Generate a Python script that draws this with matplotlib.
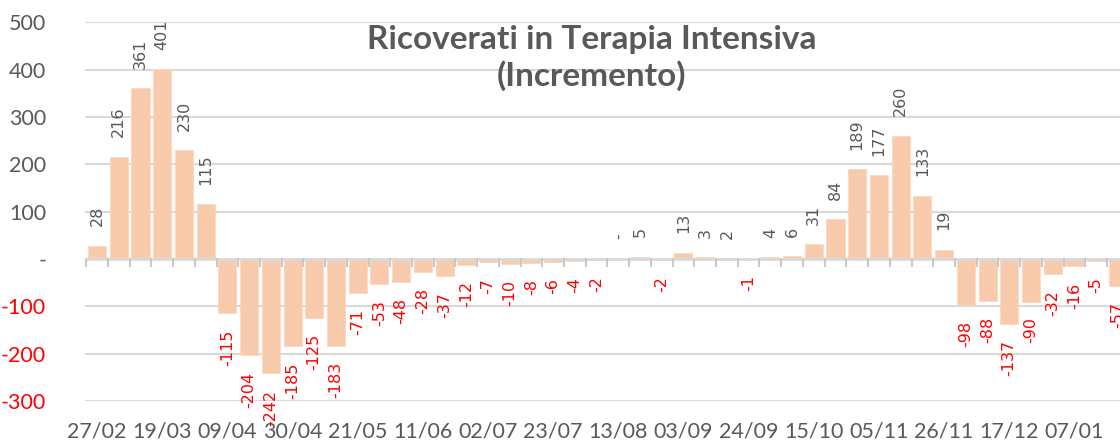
import numpy as np
from matplotlib import pyplot as plt

"DATA"
weeks = ['27/02', '05/03', '12/03', '19/03', '26/03', '02/04', '09/04', '16/04',
         '23/04', '30/04', '07/05', '14/05', '21/05', '28/05', '04/06', '11/06',
         '18/06', '25/06', '02/07', '09/07', '16/07', '23/07', '30/07', '06/08',
         '13/08', '20/08', '27/08', '03/09', '10/09', '17/09', '24/09', '01/10',
         '08/10', '15/10', '22/10', '29/10', '05/11', '12/11', '19/11', '26/11',
         '03/12', '10/12', '17/12', '24/12', '31/12', '07/01', '14/01', '21/01']
incremento = [28, 216, 361, 401, 230, 115, -115, -204, -242, -185, -125, -183,
              -71, -53, -48, -28, -37, -12, -7, -10, -8, -6, -4, -2,
              0, 5, -2, 13, 3, 2, -1, 4, 6, 31, 84, 189, 177, 260, 133, 19,
              -98, -88, -137, -90, -32, -16, -5, -57]
y_ticks = [-300, -200, -100, 0, 100, 200, 300, 400, 500]

gray = '#595959'
red = '#FF0000'
bar_col = '#F8CBAD'

x = np.arange(len(weeks))

fig = plt.figure(figsize=(11.2, 4.44), dpi=100)
ax = fig.add_axes([0.076, 0.097, 0.924, 0.853])

ax.bar(x, incremento, width=0.83, color=bar_col, edgecolor='#FAD7C0',
       linewidth=0.6, zorder=2)

"assi e griglia"
ax.set_xlim(-0.55, 47.1)
ax.set_ylim(-300, 500)
for yv in y_ticks:
    if yv != 0:
        ax.axhline(yv, color='#D9D9D9', linewidth=1.5, zorder=0)
ax.axhline(0, color='#D9D9D9', linewidth=2, zorder=3)
for b in np.arange(-0.5, len(weeks), 1.0):
    ax.plot((b, b), (0, -16), color='#C8C8C8', linewidth=1.5, zorder=4)

for s in ax.spines.values():
    s.set_visible(False)

ax.set_yticks(y_ticks)
ax.set_yticklabels([('-' if v == 0 else str(v)) for v in y_ticks],
                   fontsize=15.5, family='Lato')
for lab, v in zip(ax.get_yticklabels(), y_ticks):
    lab.set_color(red if v < 0 else gray)
ax.tick_params(axis='y', length=0, pad=28)

ax.set_xticks(x[::3])
ax.set_xticklabels(weeks[::3], fontsize=15.5, family='Lato', color=gray)
ax.tick_params(axis='x', length=0, pad=15)

"etichette dati"
for xi, v in zip(x, incremento):
    if v > 0:
        ax.annotate(str(v), (xi, v), xytext=(0, 14), textcoords='offset points',
                    rotation=90, ha='center', va='bottom', fontsize=11.5,
                    color=gray, annotation_clip=False)
    elif v == 0:
        ax.annotate('-', (xi, v), xytext=(0, 14), textcoords='offset points',
                    rotation=90, ha='center', va='bottom', fontsize=11.5,
                    color=gray, annotation_clip=False)
    else:
        ax.annotate(str(v), (xi, v), xytext=(0, -11.5), textcoords='offset points',
                    rotation=90, ha='center', va='top', fontsize=11.5,
                    color=red, annotation_clip=False)

"TITOLO"
fig.text(592 / 1120, 1 - 58 / 444, 'Ricoverati in Terapia Intensiva\n(Incremento)',
         ha='center', va='center', fontsize=24, fontweight='bold', color=gray,
         family='Lato', linespacing=1.25)

fig.savefig('out.png', dpi=100)
